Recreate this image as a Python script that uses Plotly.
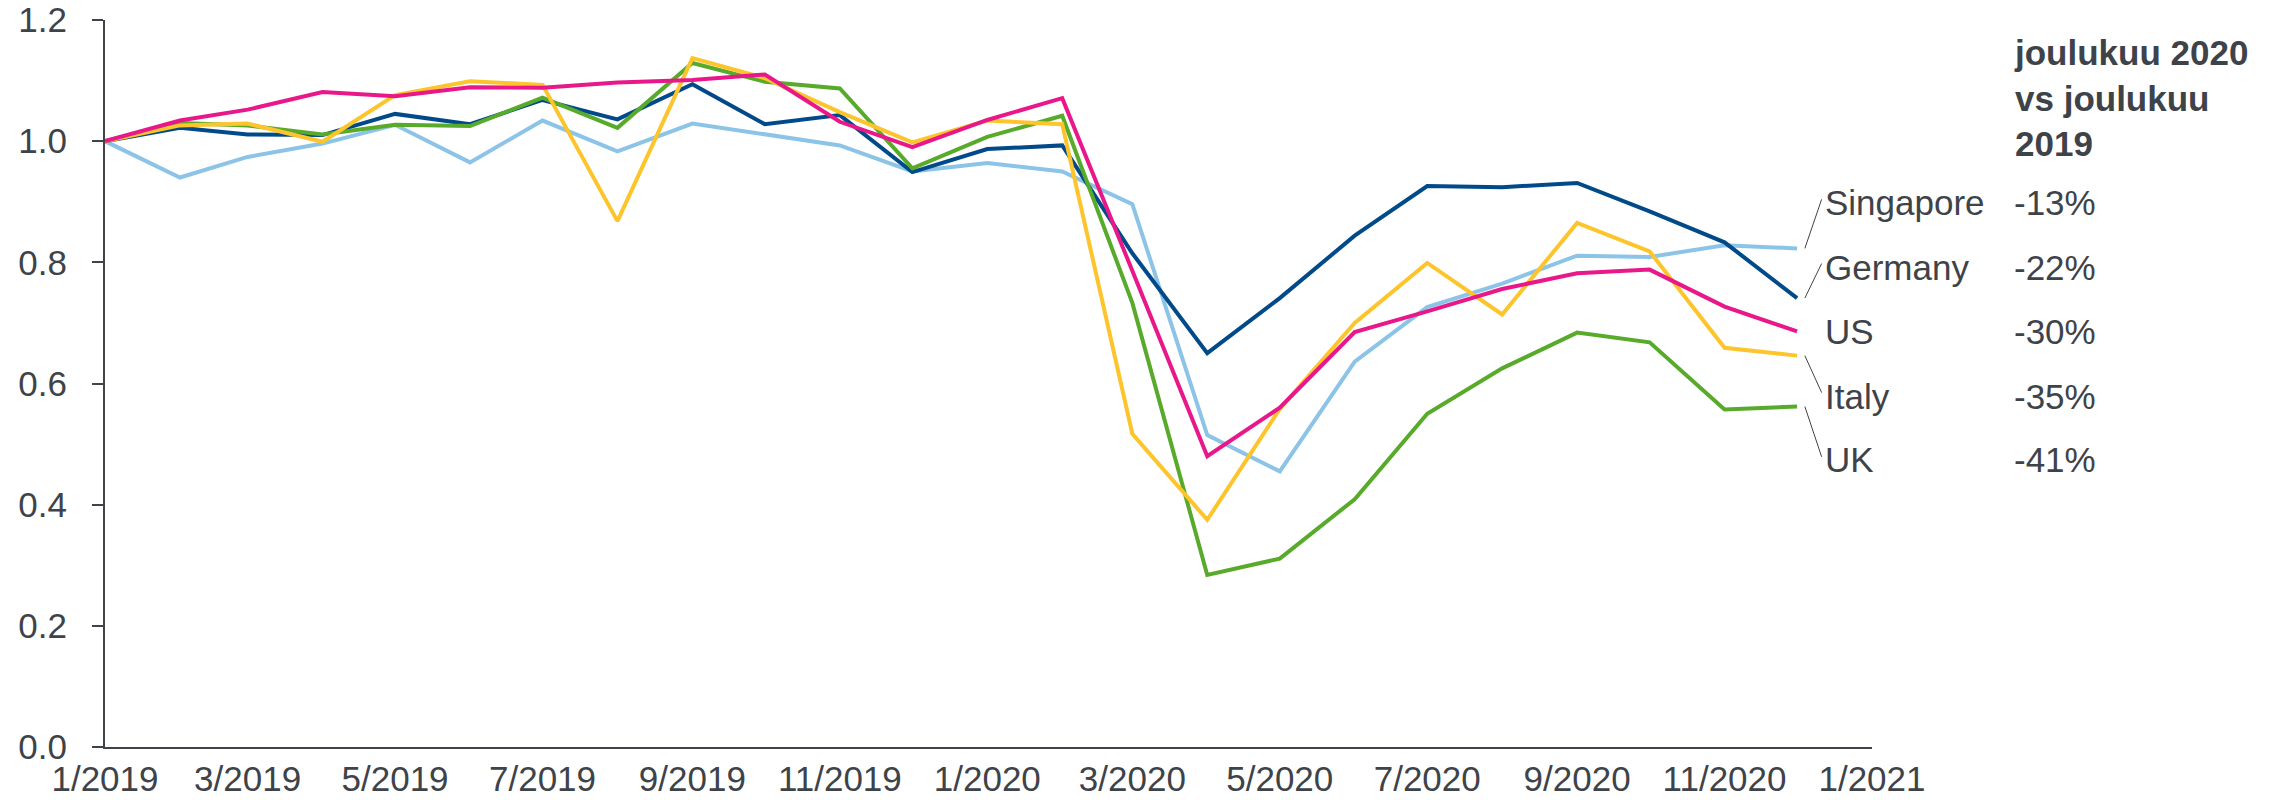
import plotly.graph_objects as go

# monthly index values, Jan 2019 = 1.0
months = ["2019-%02d-01" % m for m in range(1, 13)] + ["2020-%02d-01" % m for m in range(1, 13)]

singapore = [1.000, 0.940, 0.974, 0.996, 1.027, 0.965, 1.034, 0.983, 1.029, 1.011, 0.993, 0.950,
             0.964, 0.950, 0.896, 0.515, 0.455, 0.636, 0.726, 0.765, 0.811, 0.809, 0.828, 0.823]
germany = [1.000, 1.022, 1.011, 1.010, 1.045, 1.028, 1.068, 1.036, 1.094, 1.028, 1.043, 0.949,
           0.987, 0.993, 0.815, 0.650, 0.741, 0.844, 0.926, 0.924, 0.931, 0.884, 0.833, 0.741]
us = [1.000, 1.034, 1.052, 1.081, 1.074, 1.089, 1.088, 1.097, 1.101, 1.110, 1.032, 0.990,
      1.035, 1.071, 0.786, 0.480, 0.560, 0.685, 0.719, 0.756, 0.782, 0.788, 0.727, 0.686]
italy = [1.000, 1.026, 1.029, 0.999, 1.076, 1.099, 1.093, 0.868, 1.137, 1.104, 1.048, 0.998,
         1.034, 1.028, 0.517, 0.375, 0.558, 0.700, 0.799, 0.714, 0.865, 0.818, 0.659, 0.646]
uk = [1.000, 1.030, 1.026, 1.011, 1.027, 1.025, 1.072, 1.022, 1.129, 1.098, 1.087, 0.955,
      1.007, 1.042, 0.733, 0.284, 0.311, 0.409, 0.550, 0.625, 0.684, 0.668, 0.557, 0.562]

countries = ["Singapore", "Germany", "US", "Italy", "UK"]
changes = ["-13%", "-22%", "-30%", "-35%", "-41%"]
header = "joulukuu 2020<br>vs joulukuu<br>2019"

TEXT = "#3e4349"
FONT = "Liberation Sans, Arial, sans-serif"
colors = {"Singapore": "#8cc4e8", "Germany": "#004a8a", "US": "#e8178a",
          "Italy": "#fdc52b", "UK": "#58aa2a"}
series = {"Singapore": singapore, "Germany": germany, "US": us, "Italy": italy, "UK": uk}

fig = go.Figure()
# drawing order: pink on top
for name in ["Singapore", "Germany", "UK", "Italy", "US"]:
    fig.add_trace(go.Scatter(x=months, y=series[name], mode="lines", name=name,
                             line=dict(color=colors[name], width=4)))

# label column (y in data units)
label_y = [0.899, 0.792, 0.686, 0.579, 0.474]
label_x = 0.9725
pct_x = 1.0795
for name, chg, ly in zip(countries, changes, label_y):
    fig.add_annotation(x=label_x, y=ly, xref="paper", yref="y", text=name, showarrow=False,
                       xanchor="left", yanchor="middle", font=dict(size=35, color=TEXT))
    fig.add_annotation(x=pct_x, y=ly, xref="paper", yref="y", text=chg, showarrow=False,
                       xanchor="left", yanchor="middle", font=dict(size=35, color=TEXT))

fig.add_annotation(x=pct_x, y=0.985, xref="paper", yref="paper", text="<b>" + header + "</b>",
                   showarrow=False, xanchor="left", yanchor="top", align="left",
                   font=dict(size=35, color=TEXT))

# leader lines from line ends to labels
leaders = {"Singapore": 0.904, "Germany": 0.798, "Italy": 0.585, "UK": 0.479}
for name, ty in leaders.items():
    fig.add_shape(type="line", xref="paper", yref="y", x0=0.962, x1=0.9715,
                  y0=series[name][-1], y1=ty, line=dict(color=TEXT, width=1))

# page body has an 8px margin, so the figure is a bit smaller than the window
fig.update_layout(
    width=2284, height=792,
    margin=dict(l=97, r=420, t=12, b=53, autoexpand=False),
    plot_bgcolor="white", paper_bgcolor="white",
    showlegend=False,
    font=dict(family=FONT, size=35, color=TEXT),
)
fig.update_xaxes(
    type="date", range=["2019-01-01", "2021-01-01"],
    dtick="M2", tick0="2019-01-01", tickformat="%-m/%Y",
    showgrid=False, zeroline=False,
    showline=True, linecolor="#404448", linewidth=2,
    ticks="", tickfont=dict(size=35, color=TEXT),
    ticklabeloverflow="allow",
)
fig.update_yaxes(
    range=[0, 1.2], dtick=0.2, tickformat=".1f",
    showgrid=False, zeroline=False,
    showline=True, linecolor="#404448", linewidth=2,
    ticks="outside", ticklen=11, tickcolor="#404448", tickwidth=2,
    ticklabelstandoff=18, ticklabeloverflow="allow",
    tickfont=dict(size=35, color=TEXT),
)

fig.write_html("out.html")
